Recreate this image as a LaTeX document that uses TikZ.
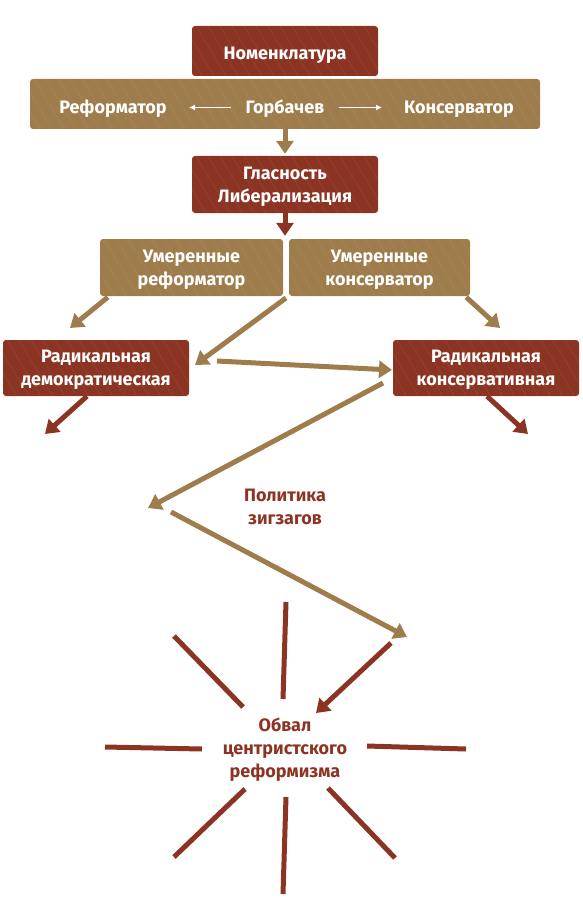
\documentclass[tikz,border=0pt]{standalone}
\usepackage{fontspec}
\setmainfont{Fira Sans}
\usetikzlibrary{arrows.meta,calc}
\definecolor{rust}{HTML}{8C3423}
\definecolor{khaki}{HTML}{9E7C4C}
\tikzset{
    lab/.style={
        font=\bfseries\fontsize{18}{23}\selectfont, align=center, text depth=0pt
    },
    scratch/.style={
        path picture={
            \foreach \s in {-80,-68,...,560} {
                \draw[white, opacity=0.10, line width=0.4pt]
                    ($(path picture bounding box.north west)+(\s,0)$) -- ++(45,75);
            }
        }
    },
    redbox/.style={lab, fill=rust, text=white, rounded corners=3pt, inner sep=0pt, scratch},
    tanbox/.style={lab, fill=khaki, text=white, rounded corners=3pt, inner sep=0pt, scratch},
    bandlab/.style={lab, text=white, inner sep=0pt, text height=12.4pt},
    tanarrow/.style={draw=khaki, line width=5pt, -{Triangle[length=13pt,width=17pt]}},
    redarrow/.style={draw=rust, line width=5pt, -{Triangle[length=13pt,width=17pt]}},
    thinarrow/.style={draw=white, line width=1.4pt, -{Latex[length=6pt,width=6pt]}},
    ray/.style={draw=rust, line width=5pt}
}

\begin{document}
\begin{tikzpicture}[x=1pt, y=-1pt]

\useasboundingbox (0,0) rectangle (582,920);

\def\boxw{186pt}

% top rows
\node[redbox, minimum width=\boxw, minimum height=50pt, text height=17pt] (nomen) at (285,51) {Номенклатура};
\node[tanbox, minimum width=510pt, minimum height=50pt] (band) at (285,104) {};
\node[bandlab] (reform) at (113,107.5) {Реформатор};
\node[bandlab] (gorb) at (285,107.5) {Горбачев};
\node[bandlab] (kons) at (459,107.5) {Консерватор};
\draw[thinarrow, shorten <=15pt, shorten >=22pt] (gorb) -- (reform);
\draw[thinarrow, shorten <=15pt, shorten >=22pt] (gorb) -- (kons);

\node[redbox, minimum width=\boxw, minimum height=57pt] (glas) at (285,184.5) {Гласность\\Либерализация};
\draw[tanarrow, shorten >=2pt] (band) -- (glas);

% moderates
\node[tanbox, minimum width=183pt, minimum height=57pt] (modref) at (191.5,267.5) {Умеренные\\реформатор};
\node[tanbox, minimum width=181pt, minimum height=57pt] (modcons) at (379.5,267.5) {Умеренные\\консерватор};
\draw[redarrow, shorten >=3pt] (glas) -- (glas |- modref.north);

% radicals
\node[redbox, minimum width=\boxw, minimum height=56pt] (raddem) at (96,368) {Радикальная\\демократическая};
\node[redbox, minimum width=\boxw, minimum height=56pt] (radcons) at (486,368) {Радикальная\\консервативная};

\coordinate (dl) at (70,328);
\coordinate (dr) at (500,328);
\coordinate (mid) at (286,298);
\coordinate (demin) at (195,365);
\coordinate (demout) at (217,361);
\coordinate (consin) at (392,370);
\coordinate (consout) at (383,383);
\coordinate (zig) at (148,508);
\coordinate (zagout) at (171,512);
\coordinate (zag) at (407,637);
\coordinate (fallout) at (391,643);
\coordinate (fall) at (316,713);
\coordinate (demdown) at (45,434);
\coordinate (consdown) at (528,434);

\draw[tanarrow] ($(modref.south west)+(8,1)$) -- (dl);
\draw[tanarrow] ($(modcons.south east)+(-4,1)$) -- (dr);
\draw[tanarrow] (mid) -- (demin);
\draw[tanarrow] (demout) -- (consin);
\draw[redarrow] ($(raddem.south)+(-9,0)$) -- (demdown);
\draw[redarrow] ($(radcons.south)+(1,0)$) -- (consdown);

% zigzag
\draw[tanarrow] (consout) -- (zig);
\node[lab, text=rust] (zigzag) at (285,507) {Политика\\зигзагов};
\draw[tanarrow] (zagout) -- (zag);
\draw[redarrow] (fallout) -- (fall);

% collapse
\node[lab, text=rust] (collapse) at (285,748) {Обвал\\центристского\\реформизма};
\foreach \xa/\ya/\xb/\yb in {286/602/283/699, 174/636/243/707, 105/747/202/749,
    367/746/466/749, 245/789/174/857, 286/797/283/894, 328/788/395/858} {
  \draw[ray] (\xa,\ya) -- (\xb,\yb);
}

\end{tikzpicture}
\end{document}
